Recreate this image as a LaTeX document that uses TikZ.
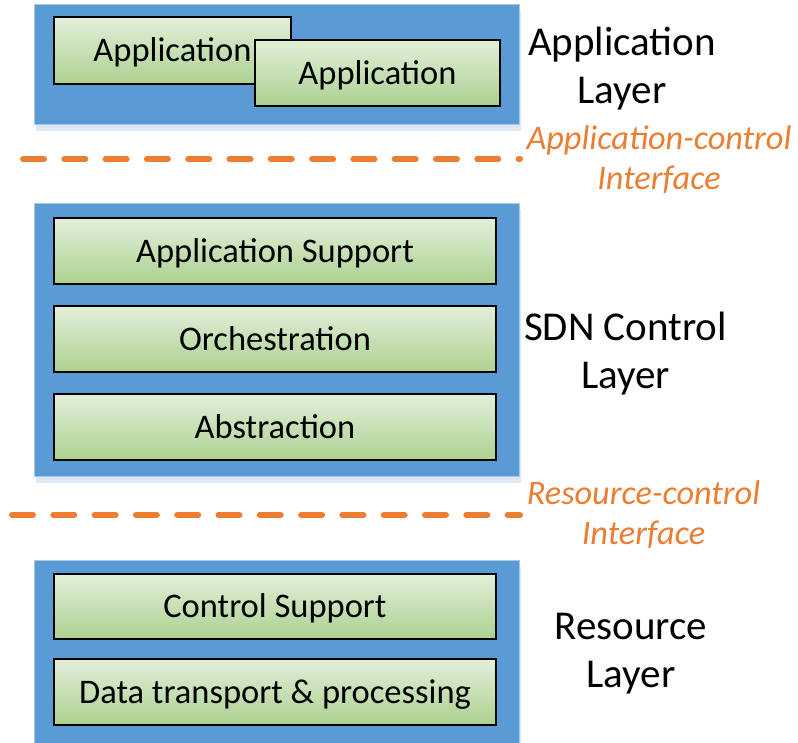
\documentclass[tikz,border=0pt]{standalone}
\usepackage{fontspec}
\setmainfont{Carlito}
\usetikzlibrary{shadows}
\definecolor{layerblue}{HTML}{5B9BD5}
\definecolor{layeredge}{HTML}{A9C6E8}
\definecolor{shadowblue}{HTML}{DDE8F4}
\definecolor{gtop}{HTML}{E2EFDA}
\definecolor{gbot}{HTML}{ABD190}
\definecolor{ifcorange}{HTML}{ED7D31}
\begin{document}
\begin{tikzpicture}[x=1pt,y=-1pt,
  layerbox/.style={fill=layerblue, draw=layeredge, line width=0.6pt, inner sep=0pt,
    drop shadow={shadow xshift=2pt, shadow yshift=-7pt, fill=shadowblue, opacity=1}},
  comp/.style={draw=black, line width=1.4pt, top color=gtop, bottom color=gbot,
    inner sep=0pt, text height=22pt, text depth=0pt, font=\fontsize{34.5}{40}\selectfont},
  layerlbl/.style={align=center, font=\fontsize{41}{48}\selectfont, inner sep=0pt},
  ifclbl/.style={align=center, text=ifcorange, font=\itshape\fontsize{34.3}{40}\selectfont, inner sep=0pt},
  ifcline/.style={draw=ifcorange, line width=6pt, line cap=round, dash pattern=on 21pt off 20.3pt}]
\useasboundingbox (0,0) rectangle (798,742);
% layers
\node[layerbox, minimum width=485pt, minimum height=120pt] (applayer) at (276.5,64) {};
\node[layerbox, minimum width=485pt, minimum height=273pt] (ctllayer) at (276.5,339.5) {};
\node[layerbox, minimum width=485pt, minimum height=184pt] (reslayer) at (276.5,652) {};
% components
\node[comp, minimum width=237pt, minimum height=67pt] (app1) at (172.5,50.5) {Application};
\node[comp, minimum width=245pt, minimum height=66pt] (app2) at (377.5,73) {Application};
\node[comp, minimum width=442pt, minimum height=66pt] (appsup) at (275,251) {Application Support};
\node[comp, minimum width=442pt, minimum height=66pt] (orch) at (275,339) {Orchestration};
\node[comp, minimum width=442pt, minimum height=66pt] (abst) at (275,427) {Abstraction};
\node[comp, minimum width=442pt, minimum height=65pt] (ctlsup) at (275,606.5) {Control Support};
\node[comp, minimum width=442pt, minimum height=66pt] (datatp) at (275,692) {Data transport \& processing};
% interfaces
\coordinate (i1a) at (23,159);
\coordinate (i1b) at (520,159);
\coordinate (i2a) at (12,515);
\coordinate (i2b) at (520,515);
\draw[ifcline] (i1a) -- (i1b);
\draw[ifcline] (i2a) -- (i2b);
% labels
\node[layerlbl] (applbl) at (622,68.8) {Application\\Layer};
\node[layerlbl] (ctllbl) at (625.5,353.5) {SDN Control\\Layer};
\node[layerlbl] (reslbl) at (631,653.5) {Resource\\Layer};
\node[ifclbl] (ifc1) at (659,159.5) {Application-control\\Interface};
\node[ifclbl] (ifc2) at (643.5,514.5) {Resource-control\\Interface};
\end{tikzpicture}
\end{document}
